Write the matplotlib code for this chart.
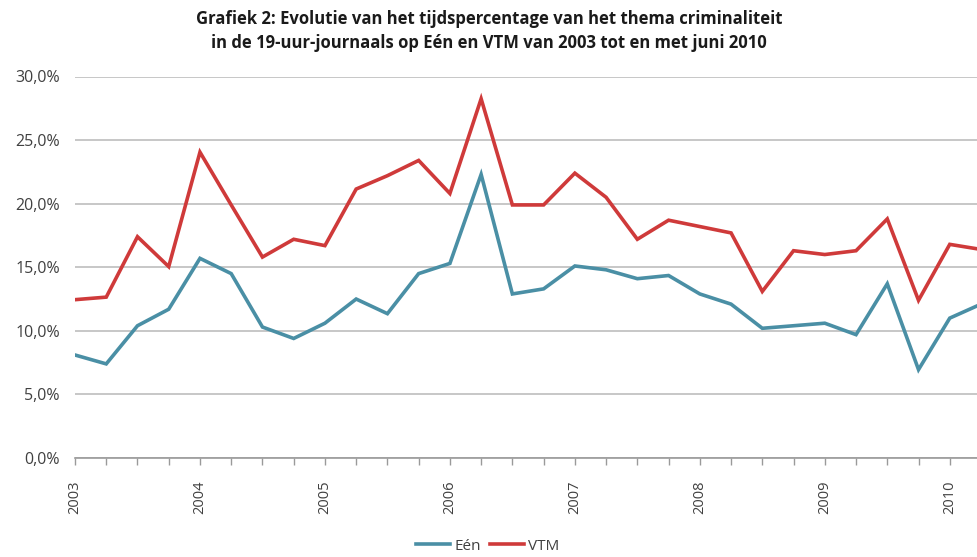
import matplotlib
matplotlib.use("Agg")
import matplotlib.pyplot as plt
from matplotlib.ticker import FuncFormatter, FixedLocator

plt.rcParams['font.family'] = ['Open Sans', 'DejaVu Sans']

quarters = [f"{y}Q{q}" for y in range(2003, 2011) for q in range(1, 5)][:30]
year_labels = ["2003", "2004", "2005", "2006", "2007", "2008", "2009", "2010"]

een = [8.1, 7.4, 10.4, 11.7, 15.7, 14.5, 10.3, 9.4, 10.6, 12.5,
       11.35, 14.5, 15.3, 22.3, 12.9, 13.3, 15.1, 14.8, 14.1, 14.35,
       12.9, 12.1, 10.2, 10.4, 10.6, 9.7, 13.7, 6.95, 11.0, 12.1]
vtm = [12.45, 12.65, 17.4, 15.05, 24.05, 19.9, 15.8, 17.2, 16.7, 21.15,
       22.2, 23.4, 20.8, 28.25, 19.9, 19.9, 22.4, 20.5, 17.2, 18.7,
       18.2, 17.7, 13.1, 16.3, 16.0, 16.3, 18.8, 12.4, 16.8, 16.4]

W, H = 978, 557
fig = plt.figure(figsize=(W / 100, H / 100), dpi=100)
left, right = 75 / W, 981 / W
bottom, top = 1 - 458 / H, 1 - 76.5 / H
ax = fig.add_axes([left, bottom, right - left, top - bottom])

x = list(range(len(quarters)))
l1, = ax.plot(x, een, color='#4A8FA5', lw=2.6, label='Eén', solid_joinstyle='miter')
l2, = ax.plot(x, vtm, color='#CF3A3A', lw=2.6, label='VTM', solid_joinstyle='miter')

ax.set_xlim(0, len(quarters) - 1)
ax.set_ylim(0, 30)
ax.set_yticks([0, 5, 10, 15, 20, 25, 30])
ax.yaxis.set_major_formatter(FuncFormatter(lambda v, p: f"{v:.1f}%".replace('.', ',')))
ax.grid(axis='y', color='#C3C3C3', lw=1.3)
ax.set_axisbelow(True)
for s in ['left', 'right', 'top']:
    ax.spines[s].set_visible(False)
ax.spines['bottom'].set_color('#9A9A9A')
ax.spines['bottom'].set_linewidth(1.2)

ax.xaxis.set_major_locator(FixedLocator(x))
labels = []
for q in quarters:
    labels.append(year_labels[year_labels.index(q[:4])] if q.endswith('Q1') else '')
ax.set_xticklabels(labels, rotation=90, fontsize=10.5, color='#404040')
ax.tick_params(axis='x', length=5, color='#9A9A9A', width=1, pad=11)
ax.tick_params(axis='y', length=0, labelsize=11.5, labelcolor='#404040', pad=11)

fig.text(0.5, 1 - 19 / H, "Grafiek 2: Evolutie van het tijdspercentage van het thema criminaliteit",
         ha='center', va='center', fontsize=12, fontweight='bold', color='#1a1a1a')
fig.text(0.5, 1 - 43 / H, "in de 19-uur-journaals op Eén en VTM van 2003 tot en met juni 2010",
         ha='center', va='center', fontsize=12, fontweight='bold', color='#1a1a1a')

fig.legend(handles=[l1, l2], loc='center', bbox_to_anchor=(488 / W, 1 - 546 / H), ncol=2,
           frameon=False, fontsize=11, handlelength=2.2, handletextpad=0.3, columnspacing=0.6,
           labelcolor='#404040')

fig.savefig('out.png', dpi=100)
